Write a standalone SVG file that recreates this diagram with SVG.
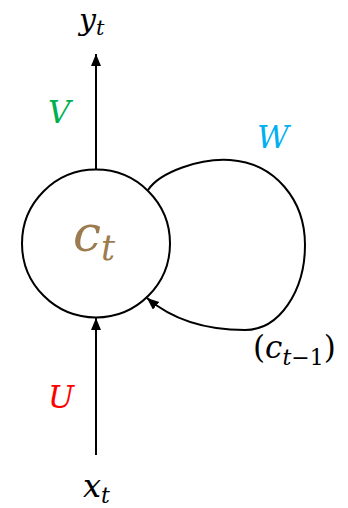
<svg xmlns="http://www.w3.org/2000/svg" width="348" height="508" viewBox="0 0 348 508">
<style>
.m{font-family:"DejaVu Serif","Liberation Serif",serif;font-style:italic;}
.n{font-style:normal;}
.ln{stroke:#000;stroke-width:2;fill:none;}
</style>
<defs>
<marker id="ah" markerUnits="userSpaceOnUse" markerWidth="14" markerHeight="12" refX="12" refY="5" orient="auto">
<path d="M0,0 L12,5 L0,10 Z" fill="#000"/>
</marker>
</defs>
<rect width="348" height="508" fill="#fff"/>
<g id="connectors">
<line class="ln" x1="96" y1="170" x2="96" y2="54" marker-end="url(#ah)"/>
<line class="ln" x1="96" y1="455" x2="96" y2="318" marker-end="url(#ah)"/>
<path class="ln" d="M148,190 C160,172 200,158 230,160 C275,163 305,200 305,245 C305,290 280,330 245,330 C200,330 168,316 147,298" marker-end="url(#ah)"/>
</g>
<g id="node-c">
<circle cx="96" cy="243.5" r="74" fill="#fff" stroke="#000" stroke-width="2"/>
<text class="m" x="73" y="251" font-size="50" fill="#9C7B4F">c<tspan font-size="35" dy="9">t</tspan></text>
</g>
<g id="label-y">
<text class="m" x="79" y="30" font-size="30" fill="#000">y<tspan font-size="21" dy="5">t</tspan></text>
</g>
<g id="label-x">
<text class="m" x="83" y="497" font-size="32" fill="#000">x<tspan font-size="22" dy="6">t</tspan></text>
</g>
<text class="m" x="48" y="123" font-size="31" fill="#00B050">V</text>
<text class="m" x="257" y="148" font-size="31" fill="#00B0F0">W</text>
<text class="m" x="48" y="408" font-size="31" fill="#FF0000">U</text>
<g id="label-cprev">
<text class="m" x="253" y="358" font-size="31" fill="#000"><tspan class="n">(</tspan>c<tspan font-size="22" dy="7">t</tspan><tspan class="n" font-size="22">−1</tspan><tspan class="n" dy="-7">)</tspan></text>
</g>
</svg>
